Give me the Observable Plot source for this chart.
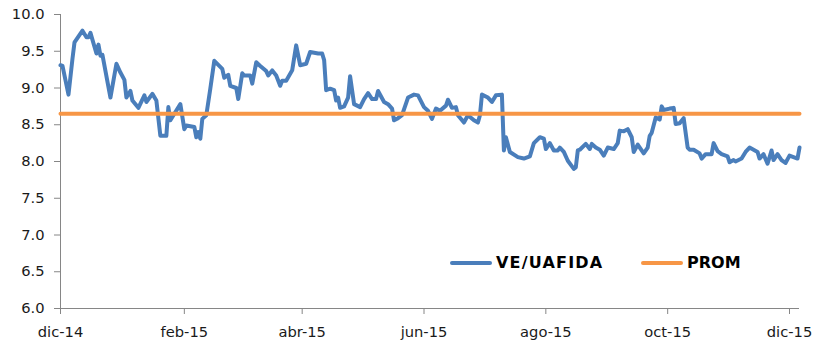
<!DOCTYPE html>
<html><head><meta charset="utf-8">
<script src="https://cdn.jsdelivr.net/npm/d3@7"></script>
<script src="https://cdn.jsdelivr.net/npm/@observablehq/plot@0.6"></script>
<style>
body{margin:0;background:#fff;}
#wrap{position:relative;width:835px;height:364px;font-family:"DejaVu Sans",Verdana,sans-serif;}
.leg{position:absolute;display:flex;align-items:center;font-weight:bold;font-size:16px;color:#000;line-height:1;}
.sw{display:inline-block;width:42px;height:4px;border-radius:2px;margin-right:4px;}
</style></head><body><div id="wrap"></div>
<script>
const dates = [
"2014-12-01","2014-12-02","2014-12-05","2014-12-07","2014-12-08","2014-12-12","2014-12-14","2014-12-15","2014-12-16","2014-12-19","2014-12-20","2014-12-21","2014-12-22","2014-12-26","2014-12-29","2014-12-31",
"2015-01-02","2015-01-03","2015-01-05","2015-01-06","2015-01-09","2015-01-12","2015-01-13","2015-01-16","2015-01-18","2015-01-20","2015-01-23","2015-01-24","2015-01-25","2015-01-27","2015-01-30",
"2015-02-01","2015-02-02","2015-02-06","2015-02-07","2015-02-08","2015-02-09","2015-02-10","2015-02-12","2015-02-14","2015-02-16","2015-02-20","2015-02-21","2015-02-23","2015-02-24","2015-02-27","2015-02-28",
"2015-03-02","2015-03-03","2015-03-06","2015-03-07","2015-03-09","2015-03-11","2015-03-14","2015-03-15","2015-03-17","2015-03-19","2015-03-21","2015-03-22","2015-03-24","2015-03-27","2015-03-29","2015-03-31",
"2015-04-03","2015-04-05","2015-04-09","2015-04-11","2015-04-12","2015-04-13","2015-04-15","2015-04-17","2015-04-18","2015-04-19","2015-04-20","2015-04-22","2015-04-24","2015-04-25","2015-04-27","2015-04-30",
"2015-05-02","2015-05-04","2015-05-06","2015-05-08","2015-05-09","2015-05-12","2015-05-14","2015-05-16","2015-05-17","2015-05-19","2015-05-21","2015-05-24","2015-05-27","2015-05-29",
"2015-06-01","2015-06-03","2015-06-05","2015-06-07","2015-06-09","2015-06-12","2015-06-13","2015-06-15","2015-06-17","2015-06-18","2015-06-21","2015-06-23","2015-06-26","2015-06-28","2015-06-29","2015-06-30",
"2015-07-03","2015-07-05","2015-07-07","2015-07-10","2015-07-11","2015-07-12","2015-07-14","2015-07-18","2015-07-21","2015-07-24","2015-07-26","2015-07-29","2015-07-31",
"2015-08-01","2015-08-03","2015-08-05","2015-08-07","2015-08-08","2015-08-10","2015-08-12","2015-08-15","2015-08-16","2015-08-17","2015-08-18","2015-08-21","2015-08-23","2015-08-24","2015-08-26","2015-08-28","2015-08-30",
"2015-09-01","2015-09-04","2015-09-06","2015-09-07","2015-09-09","2015-09-11","2015-09-13","2015-09-14","2015-09-16","2015-09-19","2015-09-21","2015-09-22","2015-09-23","2015-09-25","2015-09-27","2015-09-28","2015-09-29",
"2015-10-02","2015-10-04","2015-10-05","2015-10-07","2015-10-09","2015-10-11","2015-10-12","2015-10-14","2015-10-17","2015-10-18","2015-10-20","2015-10-23","2015-10-24","2015-10-26","2015-10-28","2015-10-31",
"2015-11-01","2015-11-03","2015-11-04","2015-11-07","2015-11-09","2015-11-11","2015-11-13","2015-11-15","2015-11-16","2015-11-18","2015-11-20","2015-11-22","2015-11-23","2015-11-25","2015-11-27","2015-11-29",
"2015-12-01","2015-12-03","2015-12-05","2015-12-06"
];
const veUafida = [
9.31,9.30,8.91,9.40,9.62,9.78,9.69,9.69,9.75,9.47,9.59,9.44,9.45,8.87,9.33,9.21,
9.11,8.87,8.96,8.83,8.73,8.90,8.81,8.92,8.83,8.35,8.35,8.74,8.56,8.65,8.78,
8.44,8.49,8.47,8.33,8.40,8.31,8.58,8.63,8.99,9.37,9.26,9.14,9.18,9.03,9.00,8.85,
9.20,9.17,9.17,9.06,9.35,9.30,9.23,9.17,9.24,9.17,9.03,9.10,9.10,9.24,9.58,9.31,
9.33,9.49,9.47,9.47,9.38,8.97,8.99,8.97,8.83,8.87,8.73,8.75,8.87,9.16,8.78,8.74,
8.85,8.93,8.85,8.85,8.96,8.81,8.78,8.72,8.56,8.59,8.63,8.87,8.91,8.90,
8.74,8.69,8.58,8.72,8.69,8.76,8.84,8.73,8.74,8.63,8.53,8.63,8.56,8.53,8.63,8.91,
8.87,8.81,8.90,8.91,8.15,8.33,8.13,8.06,8.04,8.07,8.25,8.33,8.31,
8.17,8.25,8.15,8.15,8.19,8.13,8.01,7.90,7.92,8.15,8.16,8.24,8.17,8.24,8.19,8.16,8.08,
8.19,8.17,8.25,8.42,8.41,8.44,8.33,8.13,8.23,8.11,8.19,8.35,8.39,8.60,8.57,8.75,8.70,
8.72,8.73,8.51,8.52,8.59,8.19,8.16,8.16,8.11,8.04,8.10,8.10,8.25,8.14,8.10,8.07,
7.99,8.02,8.00,8.04,8.13,8.19,8.16,8.13,8.04,8.10,7.97,8.15,8.02,8.10,8.02,7.98,
8.08,8.06,8.04,8.19
];
const promValue = 8.65;
const seriesNames = ["VE/UAFIDA", "PROM"];
const seriesColors = ["#4a7ebb", "#f79646"];
const yTicks = [6.0, 6.5, 7.0, 7.5, 8.0, 8.5, 9.0, 9.5, 10.0];
const xTickDates = ["2014-12-01","2015-02-01","2015-04-01","2015-06-01","2015-08-01","2015-10-01","2015-12-01"];
const xTickLabels = ["dic-14","feb-15","abr-15","jun-15","ago-15","oct-15","dic-15"];
const xDomain = ["2014-12-01", "2015-12-06"];
const yDomain = [6, 10];

const rows = dates.map((d, i) => ({date: new Date(d), value: veUafida[i], prom: promValue}));
const xTicks = xTickDates.map(d => new Date(d));
const labelMap = new Map(xTicks.map((d, i) => [+d, xTickLabels[i]]));
const axisColor = "#868686";

const chart = Plot.plot({
  width: 835, height: 364,
  marginLeft: 60, marginRight: 36, marginTop: 14, marginBottom: 56,
  style: {fontFamily: "'DejaVu Sans', Verdana, sans-serif", fontSize: "14.7px", background: "#fff", overflow: "visible"},
  x: {type: "utc", domain: xDomain.map(d => new Date(d))},
  y: {domain: yDomain},
  marks: [
    Plot.axisY({ticks: yTicks, tickFormat: d => d.toFixed(1), tickSize: 6, tickPadding: 10, stroke: axisColor, fill: "#1a1a1a", label: null}),
    Plot.axisX({ticks: xTicks, tickFormat: d => labelMap.get(+d), tickSize: 6, tickPadding: 12, stroke: axisColor, fill: "#1a1a1a", label: null}),
    Plot.ruleX([new Date(xDomain[0])], {stroke: axisColor}),
    Plot.ruleY([yDomain[0]], {stroke: axisColor}),
    Plot.lineY(rows, {x: "date", y: "value", stroke: seriesColors[0], strokeWidth: 4}),
    Plot.lineY(rows, {x: "date", y: "prom", stroke: seriesColors[1], strokeWidth: 4})
  ]
});
const wrap = document.getElementById("wrap");
wrap.appendChild(chart);

const legendPos = [{left: 450, ls: "1.2px"}, {left: 641, ls: "0px"}];
seriesNames.forEach((name, i) => {
  const el = document.createElement("div");
  el.className = "leg";
  el.style.left = legendPos[i].left + "px";
  el.style.top = "254px";
  el.style.height = "18px";
  const sw = document.createElement("span");
  sw.className = "sw";
  sw.style.background = seriesColors[i];
  const tx = document.createElement("span");
  tx.textContent = name;
  tx.style.letterSpacing = legendPos[i].ls;
  el.appendChild(sw); el.appendChild(tx);
  wrap.appendChild(el);
});
</script></body></html>
